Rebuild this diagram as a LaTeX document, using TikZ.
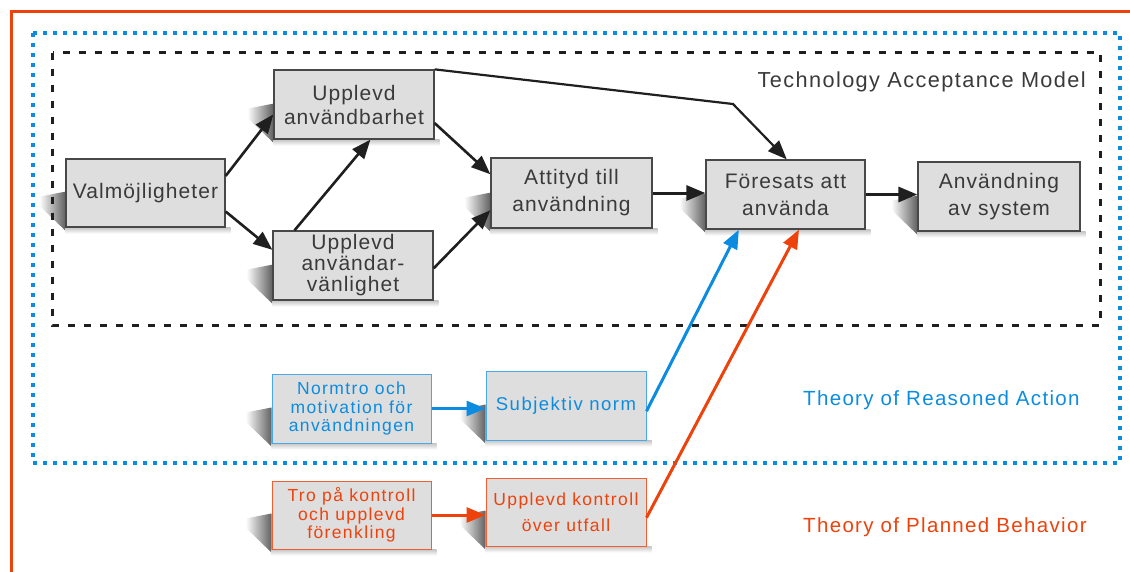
\documentclass[tikz,border=0pt]{standalone}
\usepackage{fontspec}
\setmainfont{Liberation Sans}[LetterSpace=5]
\newfontfamily\smfont{Liberation Sans}[LetterSpace=8]
\newfontfamily\lblfont{Liberation Sans}[LetterSpace=6.5]
\usetikzlibrary{arrows.meta,backgrounds,calc}
\definecolor{tblue}{RGB}{12,140,225}
\definecolor{torange}{RGB}{238,66,12}
\definecolor{tgray}{RGB}{222,222,222}
\definecolor{ttext}{RGB}{58,58,58}
\definecolor{tborder}{RGB}{72,72,72}
\newcommand{\boxshade}[1]{%
  \shade[left color=white, right color=black!62]
    ($(#1.south west)+(-26,-31)$) -- ($(#1.south west)+(0,-36)$) --
    ($(#1.south west)+(0,3)$) -- ($(#1.south west)+(-26,-22)$) -- cycle;
  \shade[top color=black!22, bottom color=white]
    ($(#1.south west)+(0,0)$) rectangle ($(#1.south east)+(5,6)$);}
\begin{document}
\begin{tikzpicture}[x=1pt,y=-1pt,
  box/.style={draw=tborder, line width=1.3pt, fill=tgray, minimum width=160pt,
    minimum height=69pt, inner sep=0pt, align=center, text=ttext},
  bbox/.style={box, draw=tblue!75, line width=1pt, text=tblue},
  obox/.style={box, draw=torange!85, line width=1pt, text=torange},
  arr/.style={-{Triangle[length=19pt,width=15pt]}, line width=2.6pt, color=black!88},
  barr/.style={arr, color=tblue, line width=3pt},
  oarr/.style={arr, color=torange, line width=3pt},
  lbl/.style={inner sep=0pt, font=\lblfont\fontsize{20.5}{22}\selectfont}
]
\useasboundingbox (0,0) rectangle (1130,571);
% frames
\draw[torange, line width=3pt] (11,600) -- (11,11.5) -- (1140,11.5);
\draw[tblue, line width=4pt, dash pattern=on 4pt off 6pt] (32.5,33) rectangle (1120,462.5);
\draw[black!88, line width=3pt, dash pattern=on 7pt off 9pt] (52.5,52.5) rectangle (1100.5,325);
% boxes
\node[box, minimum width=159pt, minimum height=68pt, font=\fontsize{21}{24}\selectfont] (val) at (145.5,193) {Valmöjligheter};
\node[box, font=\fontsize{21}{24}\selectfont] (pu) at (354,104.5) {Upplevd\\användbarhet};
\node[box, font=\fontsize{21}{21}\selectfont] (pe) at (353,265.5) {Upplevd\\användar-\\vänlighet};
\node[box, minimum width=161pt, minimum height=70pt, font=\fontsize{21}{27}\selectfont] (att) at (571.5,193) {Attityd till\\användning};
\node[box, minimum width=159pt, font=\fontsize{21}{27}\selectfont] (for) at (785.5,194.5) {Föresats att\\använda};
\node[box, minimum width=162pt, font=\fontsize{21}{27}\selectfont] (anv) at (999,196.5) {Användning\\av system};
\node[bbox, minimum width=159pt, font=\smfont\fontsize{17.5}{18.5}\selectfont] (norm) at (351.5,408.5) {Normtro och\\motivation för\\användningen};
\node[bbox, font=\smfont\fontsize{18.5}{26}\selectfont] (sub) at (566,405.5) {Subjektiv norm};
\node[obox, minimum width=159pt, minimum height=68pt, font=\smfont\fontsize{17.5}{18.5}\selectfont] (tro) at (351.5,515) {Tro på kontroll\\och upplevd\\förenkling};
\node[obox, minimum height=68pt, font=\smfont\fontsize{17.5}{26}\selectfont] (kon) at (566,512) {Upplevd kontroll\\över utfall};
% labels
\node[lbl, anchor=east, text=ttext, font=\lblfont\fontsize{21.7}{23}\selectfont] (tam) at (1086,82) {Technology Acceptance Model};
\node[lbl, anchor=west, text=tblue] (tra) at (803,400) {Theory of Reasoned Action};
\node[lbl, anchor=west, text=torange] (tpb) at (803,527) {Theory of Planned Behavior};
% shadows
\begin{scope}[on background layer]
\foreach \n in {val,pu,pe,att,for,anv,norm,sub,tro,kon} {\boxshade{\n}}
\end{scope}
% connectors
\draw[arr] (val.12) -- (pu.187);
\draw[arr] (val.-13) -- (pe.169);
\draw[arr] (pe.149) -- (pu.-65);
\draw[arr] (pu.-13) -- (att.167);
\draw[arr] (pe.-2) -- (att.192);
\coordinate (bend) at (733,104);
\draw[arr, line width=2.2pt] (pu.north east) -- (bend) -- (for.88);
\draw[arr, line width=3pt] (att.east) -- (att.east -| for.west);
\draw[arr, line width=3.2pt] (for.east) -- (for.east -| anv.west);
\draw[barr] (norm.east) -- (norm.east -| sub.west);
\draw[oarr] (tro.east) -- (tro.east -| kon.west);
\draw[barr] (sub.-4) -- (for.217);
\draw[oarr] (kon.-4) -- (for.-69);
\end{tikzpicture}
\end{document}
